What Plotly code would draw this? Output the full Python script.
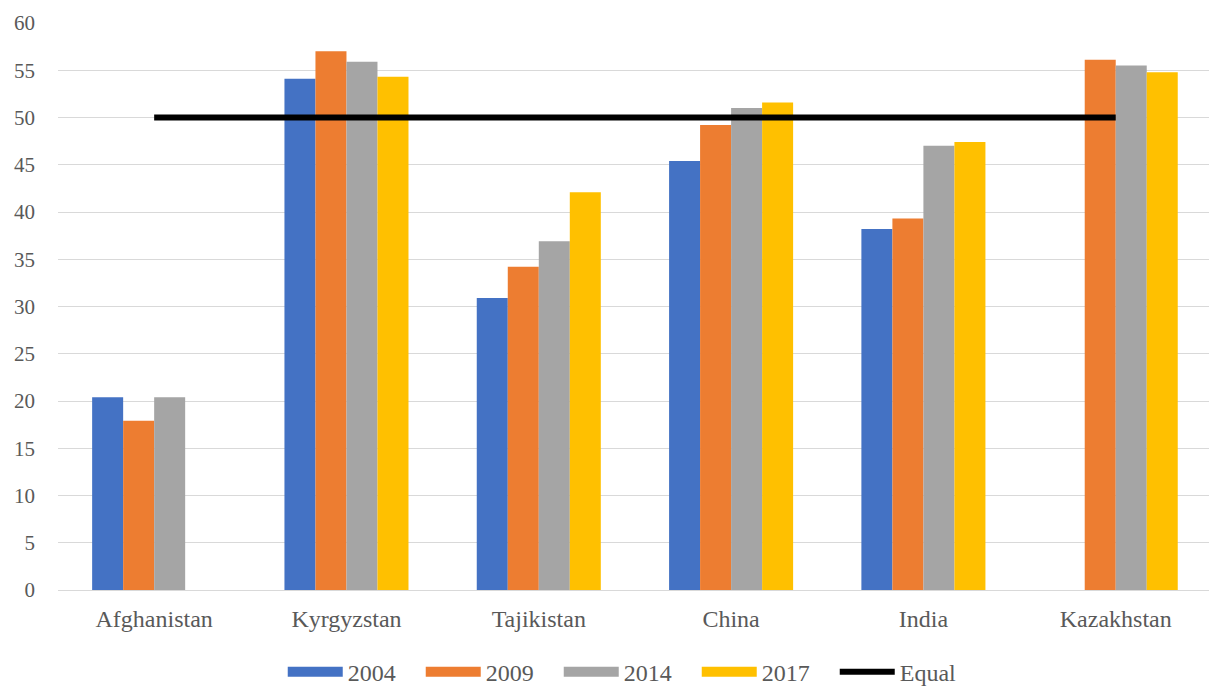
import plotly.graph_objects as go

categories = ["Afghanistan", "Kyrgyzstan", "Tajikistan", "China", "India", "Kazakhstan"]
years = ["2004", "2009", "2014", "2017"]
v2004 = [20.4, 54.1, 30.9, 45.4, 38.2, None]
v2009 = [17.9, 57.0, 34.2, 49.2, 39.3, 56.1]
v2014 = [20.4, 55.9, 36.9, 51.0, 47.0, 55.5]
v2017 = [None, 54.3, 42.1, 51.6, 47.4, 54.8]
equal = [50, 50, 50, 50, 50, 50]
y_ticks = [0, 5, 10, 15, 20, 25, 30, 35, 40, 45, 50, 55, 60]

colors = ["#4472C4", "#ED7D31", "#A5A5A5", "#FFC000"]
series = [v2004, v2009, v2014, v2017]

FONT = "Times New Roman, Liberation Serif, DejaVu Serif, serif"
TXT = "#595959"

fig = go.Figure()
for name, vals, col in zip(years, series, colors):
    fig.add_trace(go.Bar(x=categories, y=vals, name=name, marker=dict(color=col, line=dict(width=0)),
                         showlegend=False, legendgroup=name))
# legend swatches (wide rectangles like the original)
for name, col in zip(years, colors):
    fig.add_trace(go.Scatter(x=[None], y=[None], mode="lines", name=name, legendgroup=name,
                             line=dict(color=col, width=10), hoverinfo="skip"))
fig.add_trace(go.Scatter(x=categories, y=equal, mode="lines", name="Equal",
                         line=dict(color="black", width=6)))

fig.update_layout(
    width=1209, height=686,
    margin=dict(l=58, r=0, t=23, b=96, autoexpand=False),
    paper_bgcolor="white", plot_bgcolor="white",
    barmode="group", bargap=0.355, bargroupgap=0,
    font=dict(family=FONT, color=TXT, size=21),
    legend=dict(orientation="h", x=0.495, xanchor="center", y=-0.105, yanchor="top",
                font=dict(family=FONT, size=24, color=TXT), itemwidth=55,
                entrywidth=68, entrywidthmode="pixels", traceorder="normal"),
)
fig.update_xaxes(range=[-0.5, 5.485], showgrid=False, showline=False, ticks="",
                 ticklabelstandoff=12,
                 tickfont=dict(family=FONT, size=24, color=TXT), fixedrange=True)
fig.update_yaxes(range=[0, 60], tickvals=y_ticks, showgrid=True, gridcolor="#D9D9D9", gridwidth=1.3,
                 zeroline=True, zerolinecolor="#D9D9D9", zerolinewidth=1.3, showline=False,
                 ticks="", ticklabelstandoff=22, tickfont=dict(family=FONT, size=21, color=TXT))

fig.write_html("out.html", config={"displayModeBar": False},
               post_script="document.body.style.margin='0px';document.body.style.padding='0px';")
